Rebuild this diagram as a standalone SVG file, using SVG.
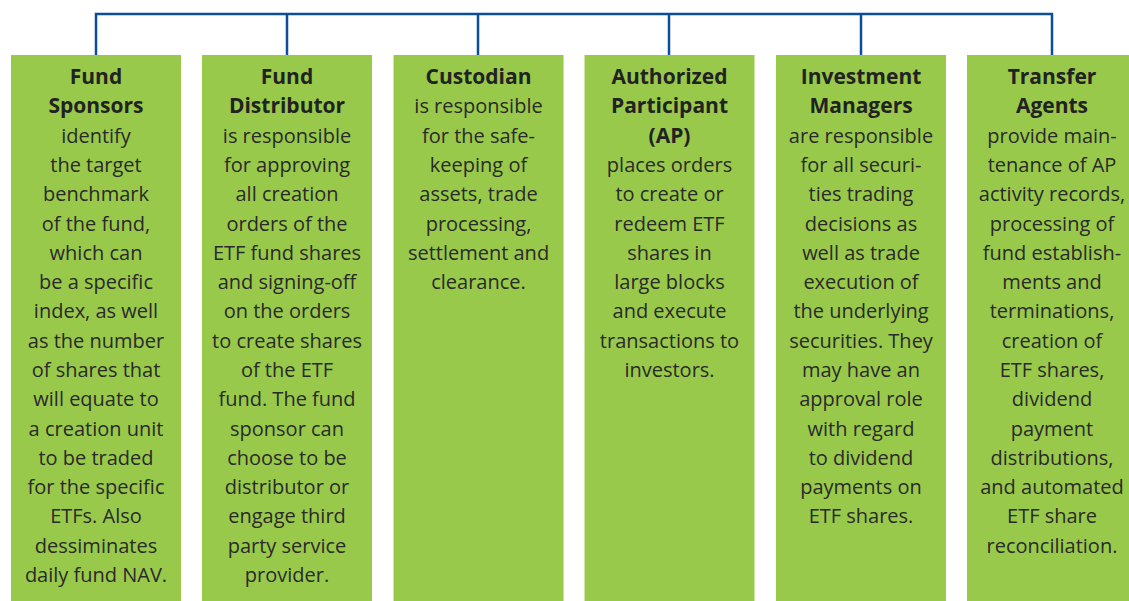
<svg xmlns="http://www.w3.org/2000/svg" width="1129" height="601" viewBox="0 0 1129 601">
<style>
.box{fill:#99c94a}
.t{font-family:"Open Sans","Liberation Sans",sans-serif;font-size:20px;fill:#2a2a2a;text-anchor:middle}
.b{font-weight:bold;font-size:21px;fill:#222222}
.c{fill:none;stroke:#0b4f9c;stroke-width:2.5}
</style>
<rect width="1129" height="601" fill="#ffffff"/>
<g id="connectors">
<path class="c" d="M96,55 V14 H1052 V55 M287,14 V55 M478,14 V55 M669,14 V55 M861,14 V55"/>
</g>
<g id="fund-sponsors">
<rect class="box" x="11" y="55" width="170" height="546"/>
<text class="t" y="84"><tspan x="96" class="b">Fund</tspan><tspan x="96" dy="29.3" class="b">Sponsors</tspan><tspan x="96" dy="29.3">identify</tspan><tspan x="96" dy="29.3">the target</tspan><tspan x="96" dy="29.3">benchmark</tspan><tspan x="96" dy="29.3">of the fund,</tspan><tspan x="96" dy="29.3">which can</tspan><tspan x="96" dy="29.3">be a specific</tspan><tspan x="96" dy="29.3">index, as well</tspan><tspan x="96" dy="29.3">as the number</tspan><tspan x="96" dy="29.3">of shares that</tspan><tspan x="96" dy="29.3">will equate to</tspan><tspan x="96" dy="29.3">a creation unit</tspan><tspan x="96" dy="29.3">to be traded</tspan><tspan x="96" dy="29.3">for the specific</tspan><tspan x="96" dy="29.3">ETFs. Also</tspan><tspan x="96" dy="29.3">dessiminates</tspan><tspan x="96" dy="29.3">daily fund NAV.</tspan></text>
</g>
<g id="fund-distributor">
<rect class="box" x="202" y="55" width="170" height="546"/>
<text class="t" y="84"><tspan x="287" class="b">Fund</tspan><tspan x="287" dy="29.3" class="b">Distributor</tspan><tspan x="287" dy="29.3">is responsible</tspan><tspan x="287" dy="29.3">for approving</tspan><tspan x="287" dy="29.3">all creation</tspan><tspan x="287" dy="29.3">orders of the</tspan><tspan x="287" dy="29.3">ETF fund shares</tspan><tspan x="287" dy="29.3">and signing-off</tspan><tspan x="287" dy="29.3">on the orders</tspan><tspan x="287" dy="29.3">to create shares</tspan><tspan x="287" dy="29.3">of the ETF</tspan><tspan x="287" dy="29.3">fund. The fund</tspan><tspan x="287" dy="29.3">sponsor can</tspan><tspan x="287" dy="29.3">choose to be</tspan><tspan x="287" dy="29.3">distributor or</tspan><tspan x="287" dy="29.3">engage third</tspan><tspan x="287" dy="29.3">party service</tspan><tspan x="287" dy="29.3">provider.</tspan></text>
</g>
<g id="custodian">
<rect class="box" x="393.5" y="55" width="170" height="546"/>
<text class="t" y="84"><tspan x="478.5" class="b">Custodian</tspan><tspan x="478.5" dy="29.3">is responsible</tspan><tspan x="478.5" dy="29.3">for the safe-</tspan><tspan x="478.5" dy="29.3">keeping of</tspan><tspan x="478.5" dy="29.3">assets, trade</tspan><tspan x="478.5" dy="29.3">processing,</tspan><tspan x="478.5" dy="29.3">settlement and</tspan><tspan x="478.5" dy="29.3">clearance.</tspan></text>
</g>
<g id="authorized-participant">
<rect class="box" x="584.5" y="55" width="170" height="546"/>
<text class="t" y="84"><tspan x="669.5" class="b">Authorized</tspan><tspan x="669.5" dy="29.3" class="b">Participant</tspan><tspan x="669.5" dy="29.3" class="b">(AP)</tspan><tspan x="669.5" dy="29.3">places orders</tspan><tspan x="669.5" dy="29.3">to create or</tspan><tspan x="669.5" dy="29.3">redeem ETF</tspan><tspan x="669.5" dy="29.3">shares in</tspan><tspan x="669.5" dy="29.3">large blocks</tspan><tspan x="669.5" dy="29.3">and execute</tspan><tspan x="669.5" dy="29.3">transactions to</tspan><tspan x="669.5" dy="29.3">investors.</tspan></text>
</g>
<g id="investment-managers">
<rect class="box" x="776" y="55" width="170" height="546"/>
<text class="t" y="84"><tspan x="861" class="b">Investment</tspan><tspan x="861" dy="29.3" class="b">Managers</tspan><tspan x="861" dy="29.3">are responsible</tspan><tspan x="861" dy="29.3">for all securi-</tspan><tspan x="861" dy="29.3">ties trading</tspan><tspan x="861" dy="29.3">decisions as</tspan><tspan x="861" dy="29.3">well as trade</tspan><tspan x="861" dy="29.3">execution of</tspan><tspan x="861" dy="29.3">the underlying</tspan><tspan x="861" dy="29.3">securities. They</tspan><tspan x="861" dy="29.3">may have an</tspan><tspan x="861" dy="29.3">approval role</tspan><tspan x="861" dy="29.3">with regard</tspan><tspan x="861" dy="29.3">to dividend</tspan><tspan x="861" dy="29.3">payments on</tspan><tspan x="861" dy="29.3">ETF shares.</tspan></text>
</g>
<g id="transfer-agents">
<rect class="box" x="967" y="55" width="170" height="546"/>
<text class="t" y="84"><tspan x="1052" class="b">Transfer</tspan><tspan x="1052" dy="29.3" class="b">Agents</tspan><tspan x="1052" dy="29.3">provide main-</tspan><tspan x="1052" dy="29.3">tenance of AP</tspan><tspan x="1052" dy="29.3">activity records,</tspan><tspan x="1052" dy="29.3">processing of</tspan><tspan x="1052" dy="29.3">fund establish-</tspan><tspan x="1052" dy="29.3">ments and</tspan><tspan x="1052" dy="29.3">terminations,</tspan><tspan x="1052" dy="29.3">creation of</tspan><tspan x="1052" dy="29.3">ETF shares,</tspan><tspan x="1052" dy="29.3">dividend</tspan><tspan x="1052" dy="29.3">payment</tspan><tspan x="1052" dy="29.3">distributions,</tspan><tspan x="1052" dy="29.3">and automated</tspan><tspan x="1052" dy="29.3">ETF share</tspan><tspan x="1052" dy="29.3">reconciliation.</tspan></text>
</g>
</svg>
